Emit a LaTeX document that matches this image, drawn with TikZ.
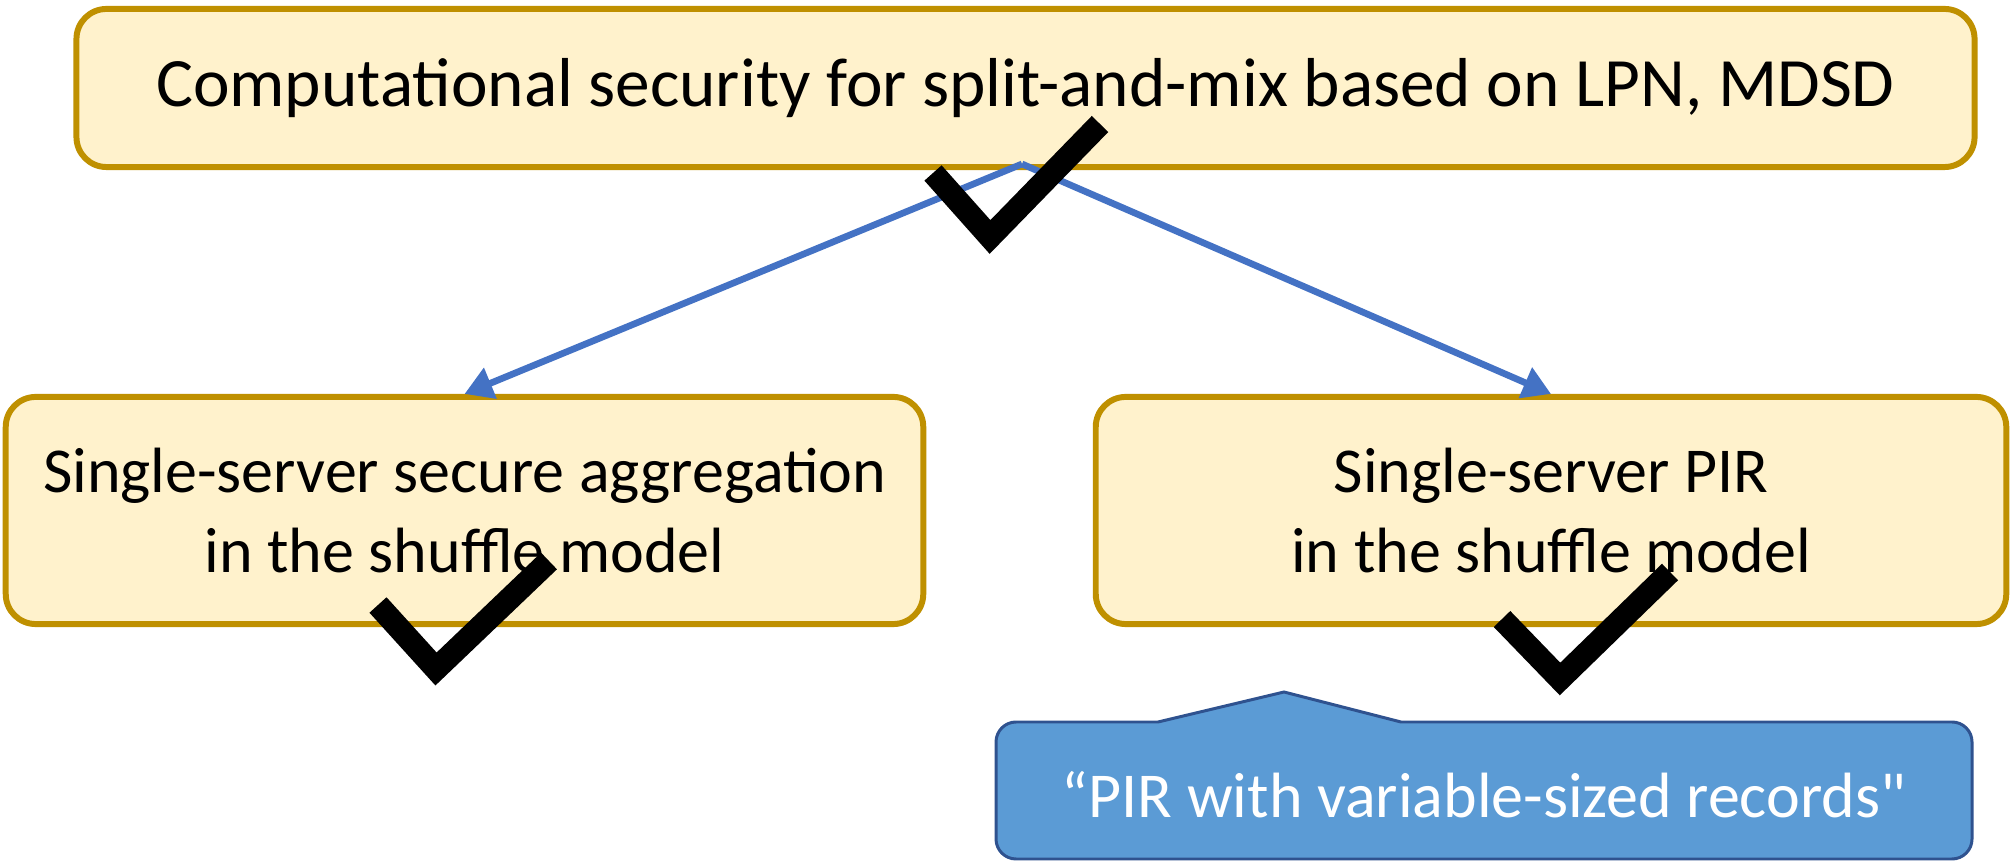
\documentclass[tikz,border=0pt]{standalone}
\usepackage{fontspec}
\setmainfont{Carlito}
\newfontfamily\plainquote{Carlito}
\usepackage{xcolor}
\usetikzlibrary{arrows.meta,positioning}

\definecolor{boxfill}{HTML}{FFF2CC}
\definecolor{boxline}{HTML}{BF9000}
\definecolor{arrowblue}{HTML}{4472C4}
\definecolor{notefill}{HTML}{5B9BD5}
\definecolor{noteline}{HTML}{2F528F}

\begin{document}
\begin{tikzpicture}[
  x=0.01cm, y=-0.01cm,
  goal/.style={draw=boxline, fill=boxfill, line width=1.7pt, rounded corners=0.3cm,
    align=center, font=\fontsize{18.2}{22.7}\selectfont, inner sep=0pt},
  arrow/.style={-{Triangle[length=2.8mm, width=3.2mm]}, arrowblue, line width=1.9pt},
  tick/.style={line width=0.23cm, line join=miter, line cap=butt}
]
\useasboundingbox (0,0) rectangle (2010,865);

% boxes
\node[goal, minimum width=18.97cm, minimum height=1.58cm, font=\fontsize{19.7}{23}\selectfont]
  (top) at (1025.5,88) {Computational security for split-and-mix based on LPN, MDSD};
\node[goal, minimum width=9.17cm, minimum height=2.27cm] (agg) at (464.5,510.5)
  {Single-server secure aggregation\\in the shuffle model};
\node[goal, minimum width=9.10cm, minimum height=2.27cm] (pir) at (1551,510.5)
  {Single-server PIR\\in the shuffle model};

% arrows
\coordinate (fork) at (1022,164);
\draw[arrow] (fork) -- (agg.north);
\draw[arrow] (fork) -- (pir.north);

% callout
\draw[noteline, fill=notefill, line width=0.85pt]
  (1158,722) -- (1284,692) -- (1401,722)
  [rounded corners=0.2cm] -- (1972,722) -- (1972,859) -- (996,859) -- (996,722)
  [sharp corners] -- cycle;
\node[text=white, font=\fontsize{18.2}{22.7}\selectfont] (note) at (1484,795)
  {``PIR with variable-sized records{\plainquote"}};

% check marks
\draw[tick] (933,173) -- (990,237) -- (1100,124);
\draw[tick] (378,605) -- (436,669) -- (549,561);
\draw[tick] (1502,619) -- (1560,679) -- (1670,572);
\end{tikzpicture}
\end{document}
